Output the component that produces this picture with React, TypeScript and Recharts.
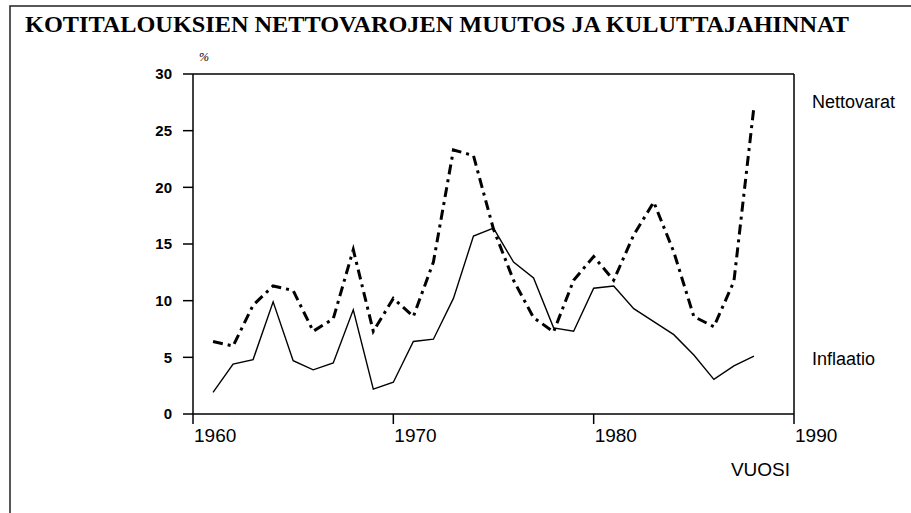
import { LineChart, Line, XAxis, YAxis, ReferenceLine } from "recharts"

const years = [
  1961, 1962, 1963, 1964, 1965, 1966, 1967, 1968, 1969, 1970, 1971, 1972, 1973, 1974,
  1975, 1976, 1977, 1978, 1979, 1980, 1981, 1982, 1983, 1984, 1985, 1986, 1987, 1988,
]
const nettovarat = [
  6.4, 6.0, 9.6, 11.3, 10.9, 7.3, 8.4, 14.5, 7.3, 10.2, 8.6, 13.4, 23.3, 22.8,
  16.3, 11.8, 8.5, 7.25, 11.8, 13.9, 11.8, 15.8, 18.7, 14.3, 8.6, 7.7, 11.7, 27.1,
]
const inflaatio = [
  1.9, 4.4, 4.8, 9.9, 4.7, 3.9, 4.5, 9.2, 2.2, 2.8, 6.4, 6.6, 10.2, 15.7,
  16.4, 13.4, 12.0, 7.6, 7.3, 11.1, 11.3, 9.3, 8.15, 7.0, 5.2, 3.05, 4.25, 5.1,
]
const xTicks = [1960, 1970, 1980, 1990]
const yTicks = [0, 5, 10, 15, 20, 25, 30]

const title = "KOTITALOUKSIEN NETTOVAROJEN MUUTOS JA KULUTTAJAHINNAT"

const data = years.map((year, i) => ({
  year,
  nettovarat: nettovarat[i],
  inflaatio: inflaatio[i],
}))

const sans = "'Liberation Sans', Arial, sans-serif"
const serif = "'Liberation Serif', 'Times New Roman', serif"

const XTick = (props: any) => {
  const { x, y, payload } = props
  return (
    <text x={x + 1} y={y + 16} fontSize={19} fontFamily={sans} fill="#000" textAnchor="start">
      {payload.value}
    </text>
  )
}

const endLabel = (name: string, dy: number) => (props: any) => {
  const { x, y, index } = props
  if (index !== data.length - 1) return null
  return (
    <text x={x + 58} y={y + dy} fontSize={18} fontFamily={sans} fill="#000">
      {name}
    </text>
  )
}

export default function App() {
  return (
    <div style={{ position: "absolute", left: 0, top: 0, width: 911, height: 513, background: "#fff" }}>
      <LineChart
        width={911}
        height={513}
        data={data}
        margin={{ top: 74, right: 117, bottom: 69, left: 153 }}
      >
        <XAxis
          dataKey="year"
          type="number"
          domain={[1960, 1990]}
          ticks={xTicks}
          tickSize={10}
          height={30}
          tick={<XTick />}
          axisLine={{ stroke: "#000", strokeWidth: 1.5 }}
          tickLine={{ stroke: "#000", strokeWidth: 1.5 }}
        />
        <YAxis
          domain={[0, 30]}
          ticks={yTicks}
          width={40}
          tickSize={10}
          tickMargin={11}
          tick={{ fill: "#000", fontSize: 15, fontWeight: 700, fontFamily: sans }}
          axisLine={{ stroke: "#000", strokeWidth: 1.5 }}
          tickLine={{ stroke: "#000", strokeWidth: 1.5 }}
        />
        <ReferenceLine y={30} stroke="#000" strokeWidth={1.5} />
        <ReferenceLine x={1990} stroke="#000" strokeWidth={1.5} />
        <Line
          type="linear"
          dataKey="nettovarat"
          stroke="#000"
          strokeWidth={3}
          strokeDasharray="10 5 3 5"
          dot={false}
          isAnimationActive={false}
          label={endLabel("Nettovarat", 1)}
        />
        <Line
          type="linear"
          dataKey="inflaatio"
          stroke="#000"
          strokeWidth={1.4}
          dot={false}
          isAnimationActive={false}
          label={endLabel("Inflaatio", 9)}
        />
      </LineChart>
      <svg
        width={911}
        height={513}
        style={{ position: "absolute", left: 0, top: 0, pointerEvents: "none" }}
      >
        <path d="M10 513 L10 6 L911 6" fill="none" stroke="#222" strokeWidth={1.5} />
        <text
          x={25}
          y={32}
          fontSize={24}
          fontWeight={700}
          fontFamily={serif}
          textLength={824}
          lengthAdjust="spacingAndGlyphs"
          fill="#000"
        >
          {title}
        </text>
        <text x={199} y={61} fontSize={12} fontStyle="italic" fontFamily={serif} fill="#000">
          %
        </text>
        <text x={790} y={476} fontSize={19} fontFamily={sans} textAnchor="end" fill="#000">
          VUOSI
        </text>
      </svg>
    </div>
  )
}
